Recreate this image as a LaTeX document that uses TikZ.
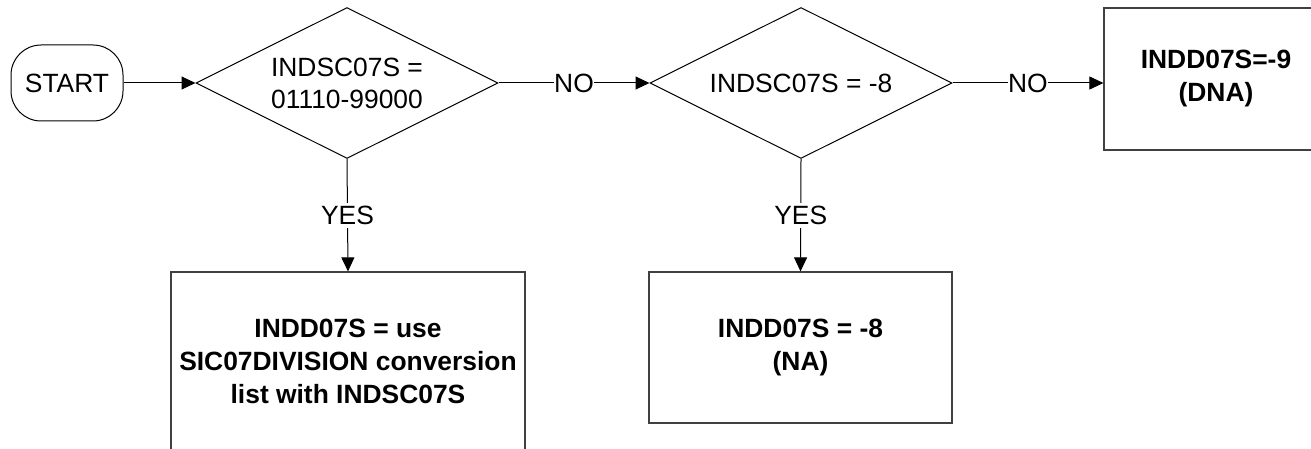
\documentclass[tikz,border=0pt]{standalone}
\usepackage{fontspec}
\setmainfont{Liberation Sans}
\usetikzlibrary{shapes.geometric,arrows.meta}
\tikzset{
  every node/.style={font=\fontsize{26.4}{32}\selectfont},
  startbox/.style={draw=black, line width=1pt, rounded corners=30pt, minimum width=112pt, minimum height=76pt, inner sep=0pt},
  decision/.style={draw=black, line width=1pt, diamond, aspect=2, minimum width=302pt, minimum height=151pt, inner sep=0pt, align=center},
  procbox/.style={draw=black!75, line width=1.2pt, minimum width=#1, inner sep=0pt, align=center, font=\fontsize{26.4}{33}\selectfont\bfseries},
  flow/.style={draw=black, line width=1pt, -{Triangle[length=14pt,width=13pt]}},
  lbl/.style={fill=white, inner xsep=0.5pt, inner ysep=5pt}
}
\begin{document}
\begin{tikzpicture}[x=1pt,y=-1pt]
\useasboundingbox (0,0) rectangle (1311,449);
\node[startbox] (start) at (67,83) {START};
\node[decision] (d1) at (347,83) {INDSC07S =\\01110-99000};
\node[decision] (d2) at (801,83) {INDSC07S = -8};
\node[procbox=354pt, minimum height=178pt] (b1) at (348,361) {INDD07S = use\\SIC07DIVISION conversion\\list with INDSC07S};
\node[procbox=303pt, minimum height=151pt] (b2) at (800.5,347.5) {INDD07S = -8\\(NA)};
\node[procbox=224pt, minimum height=142pt] (b3) at (1216,79) {INDD07S=-9\\(DNA)};
\draw[flow] (start.east) -- (d1.west);
\draw[flow] (d1.east) -- node[lbl] (no1) {NO} (d2.west);
\draw[flow] (d2.east) -- node[lbl] (no2) {NO} (d2.east -| b3.west);
\draw[flow] (d1.south) -- node[lbl, inner xsep=3pt, inner ysep=3pt] (yes1) {YES} (b1.north);
\draw[flow] (d2.south) -- node[lbl, inner xsep=3pt, inner ysep=3pt] (yes2) {YES} (b2.north);
\end{tikzpicture}
\end{document}
